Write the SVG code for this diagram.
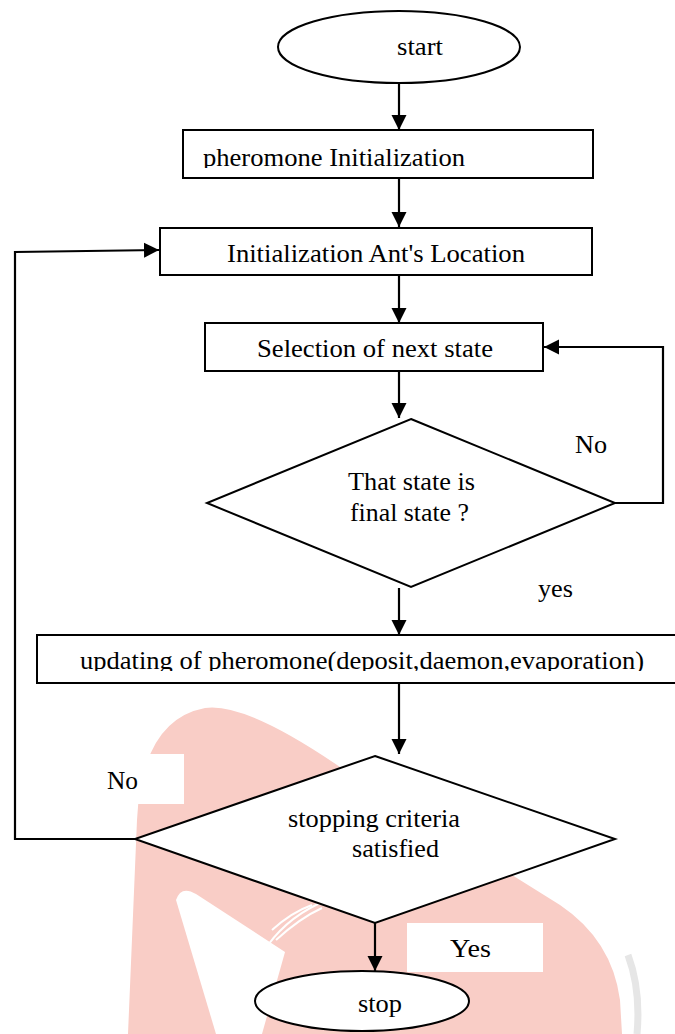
<svg xmlns="http://www.w3.org/2000/svg" width="675" height="1034" viewBox="0 0 675 1034">
<style>
.shape{fill:#fff;stroke:#000;stroke-width:2}
.conn{fill:none;stroke:#000;stroke-width:2.2}
text{font-family:"Liberation Serif","Times New Roman",serif;font-size:26px;fill:#000}
.lblbox{fill:#fff;stroke:none}
.wm{fill:#f9cdc6;stroke:none}
.sw{fill:none;stroke:#fff;stroke-width:2}
</style>
<defs>
<marker id="ah" markerUnits="userSpaceOnUse" markerWidth="16" markerHeight="16" viewBox="0 0 16 16" refX="15" refY="8" orient="auto"><path d="M0,0.5 L15,8 L0,15.5 Z" fill="#000"/></marker>
<clipPath id="c1"><rect x="183" y="130" width="410" height="38"/></clipPath>
<clipPath id="c4"><rect x="37" y="636" width="640" height="35"/></clipPath>
</defs>
<rect width="675" height="1034" fill="#fff"/>
<g id="watermark">
<path class="wm" d="M128,1034 L137,820 Q142,720 205,708 Q245,702 340,767 L560,905 Q612,940 620,1000 L622,1034 Z"/>
<path fill="#fff" d="M176,900 Q181,885 196,894 L285,952 L262,1034 L216,1034 Z"/>
<path class="sw" d="M268,945 Q290,915 327,900"/>
<path class="sw" d="M276,940 Q300,918 322,908"/>
<path class="sw" d="M272,930 Q292,912 312,905"/>
<path fill="none" stroke="#e6e6e6" stroke-width="7" d="M628,955 Q641,990 637,1034"/>
</g>
<g id="label-boxes">
<rect class="lblbox" x="100" y="754" width="84" height="50"/>
<rect class="lblbox" x="407" y="923" width="136" height="49"/>
</g>
<g id="start">
<ellipse class="shape" cx="399" cy="47" rx="121" ry="36"/>
<text x="397" y="55" textLength="46" lengthAdjust="spacingAndGlyphs">start</text>
</g>
<g id="pheromone-init">
<rect class="shape" x="183" y="130" width="410" height="48"/>
<text x="203" y="166" textLength="262" lengthAdjust="spacingAndGlyphs" clip-path="url(#c1)">pheromone Initialization</text>
</g>
<g id="ant-location">
<rect class="shape" x="160" y="228" width="432" height="47"/>
<text x="227" y="262" textLength="298" lengthAdjust="spacingAndGlyphs">Initialization Ant's Location</text>
</g>
<g id="next-state">
<rect class="shape" x="205" y="323" width="338" height="48"/>
<text x="257" y="357" textLength="236" lengthAdjust="spacingAndGlyphs">Selection of next state</text>
</g>
<g id="final-check">
<polygon class="shape" points="411,419 615,503 411,587 207,503"/>
<text x="348" y="490" textLength="127" lengthAdjust="spacingAndGlyphs">That state is</text>
<text x="350" y="521" textLength="119" lengthAdjust="spacingAndGlyphs">final state ?</text>
</g>
<g id="update-pheromone">
<rect class="shape" x="37" y="635" width="650" height="48"/>
<text x="80" y="669" textLength="564" lengthAdjust="spacingAndGlyphs" clip-path="url(#c4)">updating of pheromone(deposit,daemon,evaporation)</text>
</g>
<g id="stop-check">
<polygon class="shape" points="375,756 615,839 375,923 135,839"/>
<text x="288" y="827" textLength="172" lengthAdjust="spacingAndGlyphs">stopping criteria</text>
<text x="352" y="857" textLength="87" lengthAdjust="spacingAndGlyphs">satisfied</text>
</g>
<g id="stop">
<ellipse class="shape" cx="362" cy="1001" rx="107" ry="30"/>
<text x="358" y="1012" textLength="44" lengthAdjust="spacingAndGlyphs">stop</text>
</g>
<g id="connectors">
<path class="conn" d="M399,83 V130" marker-end="url(#ah)"/>
<path class="conn" d="M399,178 V227" marker-end="url(#ah)"/>
<path class="conn" d="M399,275 V323" marker-end="url(#ah)"/>
<path class="conn" d="M399,371 V418" marker-end="url(#ah)"/>
<path class="conn" d="M615,503 H663 V347 H544" marker-end="url(#ah)"/>
<path class="conn" d="M399,588 V635" marker-end="url(#ah)"/>
<path class="conn" d="M399,683 V754" marker-end="url(#ah)"/>
<path class="conn" d="M135,839 H15 V252 L159,250" marker-end="url(#ah)"/>
<path class="conn" d="M375,923 V971" marker-end="url(#ah)"/>
</g>
<g id="edge-labels">
<text x="575" y="453" textLength="32" lengthAdjust="spacingAndGlyphs">No</text>
<text x="538" y="597" textLength="35" lengthAdjust="spacingAndGlyphs">yes</text>
<text x="107" y="789" textLength="31" lengthAdjust="spacingAndGlyphs">No</text>
<text x="450" y="957" textLength="41" lengthAdjust="spacingAndGlyphs">Yes</text>
</g>
</svg>
